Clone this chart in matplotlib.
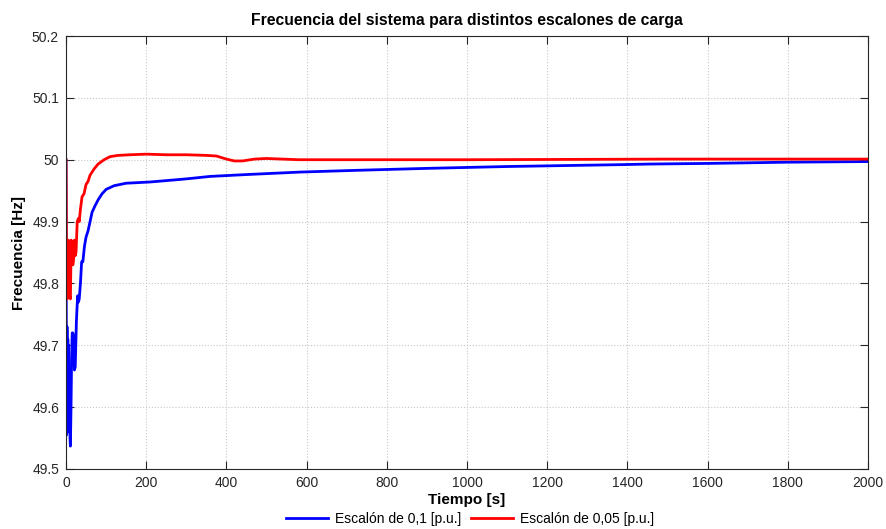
import matplotlib
matplotlib.use("Agg")
import matplotlib.pyplot as plt
import numpy as np

plt.rcParams['font.family'] = ['Liberation Sans', 'DejaVu Sans']

# Frequency response for a 0.1 p.u. load step
t_01 = [0, 0.5, 1.5, 2.5, 3.5, 4.5, 5.5, 6.5, 7.5, 8.5, 10, 11, 12.5, 14, 15.5,
        17, 19, 21, 23, 26, 29, 31, 33, 36, 39, 42, 46, 50, 55, 60, 65, 72,
        80, 90, 100, 120, 150, 210, 300, 359, 450, 583, 733, 900, 1100, 1381,
        1456, 1600, 1800, 2000]
f_01 = [50.0, 49.78, 49.555, 49.73, 49.58, 49.71, 49.56, 49.70, 49.58, 49.64,
        49.55, 49.537, 49.60, 49.68, 49.72, 49.72, 49.715, 49.66, 49.665,
        49.74, 49.78, 49.77, 49.775, 49.80, 49.835, 49.835, 49.86, 49.875,
        49.885, 49.90, 49.915, 49.925, 49.935, 49.945, 49.952, 49.958, 49.962,
        49.964, 49.969, 49.973, 49.976, 49.980, 49.983, 49.986, 49.989,
        49.992, 49.993, 49.994, 49.996, 49.997]

# Frequency response for a 0.05 p.u. load step
t_005 = [0, 0.5, 1.5, 3, 4, 5, 6, 7, 8, 9, 11, 13, 15, 17, 19, 21, 23, 25, 28,
         31, 33, 36, 40, 45, 50, 55, 60, 70, 80, 95, 110, 130, 160, 200, 250,
         300, 350, 375, 400, 420, 440, 470, 500, 540, 580, 1000, 1500, 2000]
f_005 = [50.0, 49.95, 49.80, 49.775, 49.85, 49.80, 49.87, 49.80, 49.86, 49.78,
         49.775, 49.87, 49.865, 49.83, 49.84, 49.87, 49.845, 49.85, 49.90,
         49.905, 49.90, 49.92, 49.94, 49.945, 49.96, 49.965, 49.975, 49.985,
         49.993, 50.0, 50.005, 50.007, 50.008, 50.009, 50.008, 50.008, 50.007,
         50.006, 50.001, 49.998, 49.998, 50.001, 50.002, 50.001, 50.0, 50.0,
         50.001, 50.001]

x_ticks = [0, 200, 400, 600, 800, 1000, 1200, 1400, 1600, 1800, 2000]
y_ticks = [49.5, 49.6, 49.7, 49.8, 49.9, 50.0, 50.1, 50.2]
y_labels = ['49.5', '49.6', '49.7', '49.8', '49.9', '50', '50.1', '50.2']

fig = plt.figure(figsize=(8.87, 5.29), dpi=100)
ax = fig.add_axes([66 / 887, 1 - 469 / 529, (868 - 66) / 887, (469 - 36) / 529])

ax.plot(t_01, f_01, color='#0000ff', lw=2, label='Escalón de 0,1 [p.u.]')
ax.plot(t_005, f_005, color='#ff0000', lw=2, label='Escalón de 0,05 [p.u.]')

ax.set_xlim(0, 2000)
ax.set_ylim(49.5, 50.2)
ax.set_xticks(x_ticks)
ax.set_yticks(y_ticks)
ax.set_yticklabels(y_labels)
ax.tick_params(direction='in', top=True, right=True, length=6, width=0.8,
               labelsize=10, colors='#262626', pad=5)
ax.grid(True, linestyle=':', color='#c8c8c8', linewidth=0.8)
for s in ax.spines.values():
    s.set_color('#262626')
    s.set_linewidth(0.8)

ax.set_title('Frecuencia del sistema para distintos escalones de carga',
             fontsize=11.3, fontweight='bold', pad=8)
ax.set_xlabel('Tiempo [s]', fontsize=11, fontweight='bold', labelpad=2)
ax.set_ylabel('Frecuencia [Hz]', fontsize=11, fontweight='bold', labelpad=4)

ax.legend(loc='center', bbox_to_anchor=(470 / 887, 1 - 519 / 529), ncol=2,
          bbox_transform=fig.transFigure, frameon=False, fontsize=10,
          handlelength=3.0, columnspacing=0.7, handletextpad=0.5,
          borderaxespad=0, borderpad=0.1)

fig.savefig('out.png', dpi=100)
